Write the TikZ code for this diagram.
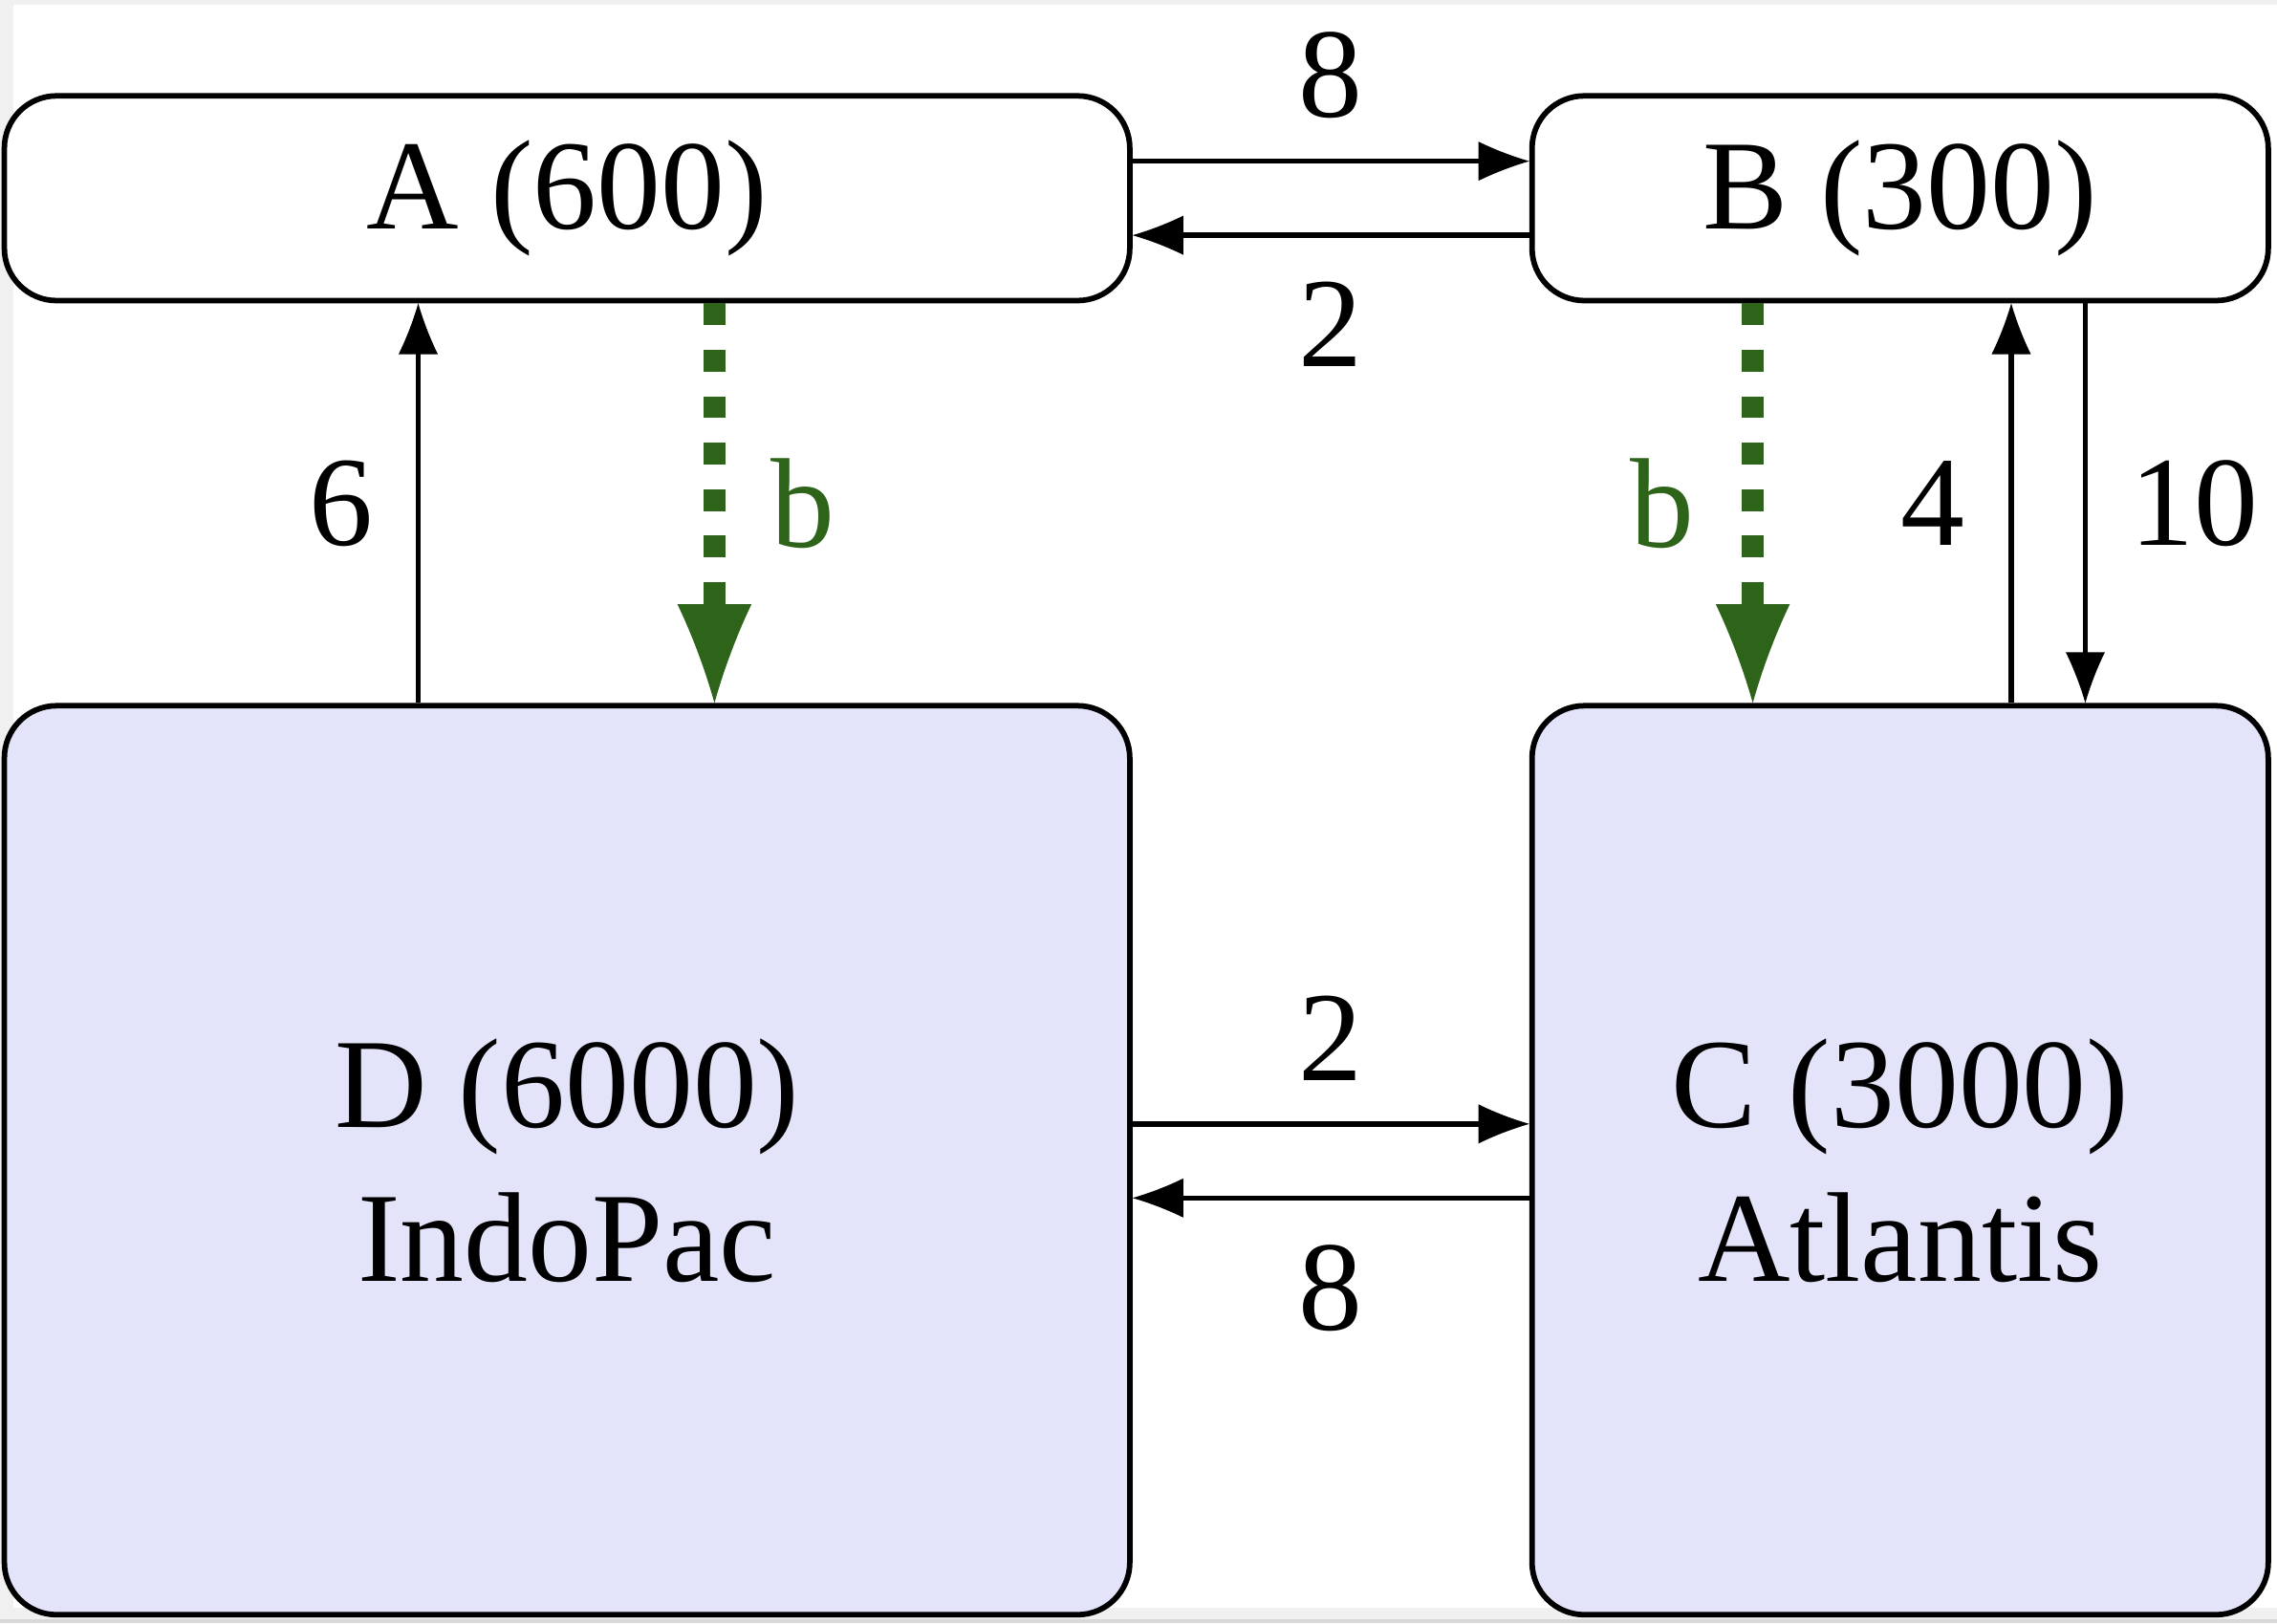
\documentclass[tikz,border=0pt]{standalone}
\usepackage{fontspec}
\setmainfont{Liberation Serif}
\usetikzlibrary{arrows.meta,calc}
\definecolor{bgreen}{RGB}{45,100,25}
\definecolor{lav}{RGB}{227,227,250}
\definecolor{gbg}{RGB}{240,240,240}
\definecolor{gbd}{RGB}{216,216,216}
\pgfdeclarearrow{
  name=Concave,
  parameters={\the\pgfarrowlength,\the\pgfarrowwidth},
  setup code={
    \pgfarrowssettipend{\pgfarrowlength}
    \pgfarrowssetbackend{0pt}
    \pgfarrowssetlineend{0.15\pgfarrowlength}
    \pgfarrowssavethe\pgfarrowlength
    \pgfarrowssavethe\pgfarrowwidth
  },
  drawing code={
    \pgfpathmoveto{\pgfpoint{\pgfarrowlength}{0pt}}
    \pgfpathcurveto{\pgfpoint{0.6\pgfarrowlength}{0.15\pgfarrowwidth}}{\pgfpoint{0.25\pgfarrowlength}{0.34\pgfarrowwidth}}{\pgfpoint{0pt}{0.5\pgfarrowwidth}}
    \pgfpathlineto{\pgfpoint{0pt}{-0.5\pgfarrowwidth}}
    \pgfpathcurveto{\pgfpoint{0.25\pgfarrowlength}{-0.34\pgfarrowwidth}}{\pgfpoint{0.6\pgfarrowlength}{-0.15\pgfarrowwidth}}{\pgfpoint{\pgfarrowlength}{0pt}}
    \pgfpathclose
    \pgfusepathqfill
  },
  defaults={length=5pt,width=4pt}
}
\begin{document}
\begin{tikzpicture}[x=0.25pt,y=-0.25pt,
  txt/.style={font=\fontsize{22}{26.5}\selectfont},
  box/.style={draw, line width=0.95pt, rounded corners=9pt, inner sep=0pt, txt, align=center},
  topbox/.style={box, fill=white, minimum height=35.25pt},
  bigbox/.style={box, fill=lav, minimum height=156.5pt},
  lbl/.style={txt, inner sep=0pt},
  arr/.style={line width=0.9pt, -{Concave[length=8.75pt,width=6.75pt]}},
  garr/.style={color=bgreen, line width=3.7pt, dash pattern=on 3.75pt off 4.25pt, -{Concave[length=17pt,width=12.75pt]}}
]
\useasboundingbox (0,0) rectangle (1568,1118);
\fill[gbg] (0,0) rectangle (1568,1118);
\fill[white] (9,3) rectangle (1568,1107);
\fill[gbd] (0,1115) rectangle (1568,1118);

\node[topbox, minimum width=193.75pt] (A) at (390.5,136.5) {A (600)};
\node[topbox, minimum width=126.75pt] (B) at (1308.5,136.5) {B (300)};
\node[bigbox, minimum width=193.75pt] (D) at (390.5,799) {D (6000)\\IndoPac};
\node[bigbox, minimum width=126.75pt] (C) at (1308.5,799) {C (3000)\\Atlantis};

\coordinate (k6) at (288,0);
\coordinate (kbA) at (492,0);
\coordinate (kbB) at (1207,0);
\coordinate (k4) at (1385,0);
\coordinate (k10) at (1436,0);

\draw[arr] ($(A.east)+(0,-25.5)$) -- ($(B.west)+(0,-25.5)$) node[lbl, midway, shift={(0,-59)}] (l8t) {8};
\draw[arr] ($(B.west)+(0,25.5)$) -- ($(A.east)+(0,25.5)$) node[lbl, midway, shift={(0,61)}] (l2t) {2};
\draw[arr] ($(D.east)+(0,-25)$) -- ($(C.west)+(0,-25)$) node[lbl, midway, shift={(0,-59)}] (l2b) {2};
\draw[arr] ($(C.west)+(0,26)$) -- ($(D.east)+(0,26)$) node[lbl, midway, shift={(0,62)}] (l8b) {8};

\draw[arr] (D.north -| k6) -- (A.south -| k6) node[lbl, midway, shift={(-53,0)}] (l6) {6};
\draw[garr] (A.south -| kbA) -- (D.north -| kbA) node[lbl, midway, shift={(61,0)}, text=bgreen] (lbA) {b};
\draw[garr] (B.south -| kbB) -- (C.north -| kbB) node[lbl, midway, shift={(-62,0)}, text=bgreen] (lbB) {b};
\draw[arr] (C.north -| k4) -- (B.south -| k4) node[lbl, midway, shift={(-54,0)}] (l4) {4};
\draw[arr] (B.south -| k10) -- (C.north -| k10) node[lbl, midway, shift={(75,0)}] (l10) {10};
\end{tikzpicture}
\end{document}
